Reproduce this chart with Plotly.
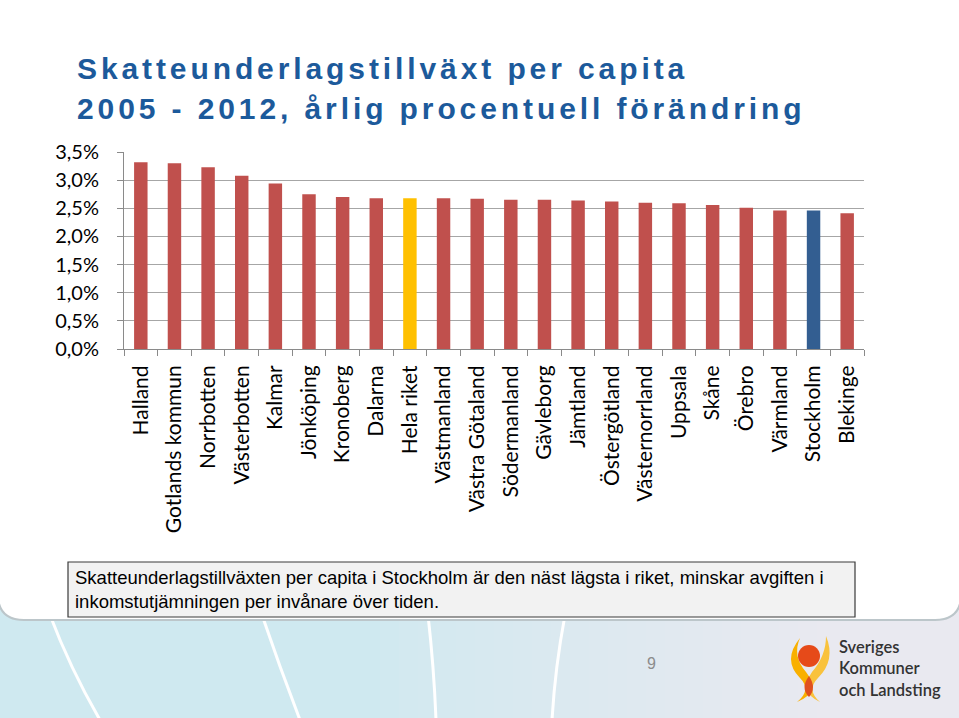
import plotly.graph_objects as go

# ---------------- data ----------------
regions = ["Halland", "Gotlands kommun", "Norrbotten", "Västerbotten", "Kalmar",
           "Jönköping", "Kronoberg", "Dalarna", "Hela riket", "Västmanland",
           "Västra Götaland", "Södermanland", "Gävleborg", "Jämtland",
           "Östergötland", "Västernorrland", "Uppsala", "Skåne", "Örebro",
           "Värmland", "Stockholm", "Blekinge"]
growth_pct = [3.32, 3.30, 3.23, 3.08, 2.94, 2.75, 2.70, 2.68, 2.68, 2.68,
              2.67, 2.65, 2.65, 2.64, 2.62, 2.60, 2.59, 2.56, 2.51, 2.46,
              2.46, 2.41]
y_tick_vals = [0, 0.5, 1.0, 1.5, 2.0, 2.5, 3.0, 3.5]
y_tick_text = ["0,0%", "0,5%", "1,0%", "1,5%", "2,0%", "2,5%", "3,0%", "3,5%"]

title_line1 = "Skatteunderlagstillväxt per capita"
title_line2 = "2005 - 2012, årlig procentuell förändring"
note_text = ("Skatteunderlagstillväxten per capita i Stockholm är den näst lägsta i riket, minskar avgiften i<br>"
             "inkomstutjämningen per invånare över tiden.")

# ---------------- style ----------------
RED, YELLOW, BLUE = "#C0504D", "#FFC000", "#335E91"
colors = [YELLOW if r == "Hela riket" else BLUE if r == "Stockholm" else RED for r in regions]

W, H = 959, 718
L, R, T, B = 124, 864, 152, 349  # plot area in pixels
PW, PH = R - L, B - T

def px(x):
    return (x - L) / PW

def py(y):
    return (B - y) / PH

fig = go.Figure(go.Bar(x=regions, y=growth_pct, marker_color=colors,
                       marker_line_width=0, width=0.4, hoverinfo="x+y"))

shapes = []
# whitish gradient towards the right of the lower band
n_steps = 30
for i in range(n_steps):
    shapes.append(dict(type="rect", xref="paper", yref="paper", layer="below",
                       x0=px(380 + i * 19), x1=px(961), y0=py(720), y1=py(610),
                       fillcolor="white", opacity=0.045, line_width=0))
# white swooshes in the lower band
for (x0, xc, x1) in [(50, 70, 100), (262, 280, 300), (428, 434, 436), (565, 555, 552)]:
    shapes.append(dict(type="path", xref="paper", yref="paper", layer="below",
                       path=f"M {px(x0)},{py(615)} Q {px(xc)},{py(668)} {px(x1)},{py(720)}",
                       line=dict(color="white", width=3)))
# white rounded panel
shapes.append(dict(type="path", xref="paper", yref="paper", layer="below",
                   path=(f"M {px(-2)},{py(-2)} L {px(961)},{py(-2)} L {px(961)},{py(598)} "
                         f"Q {px(959)},{py(620)} {px(935)},{py(620)} L {px(24)},{py(620)} "
                         f"Q {px(0)},{py(620)} {px(-2)},{py(598)} Z"),
                   fillcolor="white", line=dict(color="#BCC6CA", width=2)))
# note box
shapes.append(dict(type="rect", xref="paper", yref="paper",
                   x0=px(68), x1=px(855), y0=py(617), y1=py(562),
                   fillcolor="#F2F2F2", line=dict(color="#3A3A3A", width=1.2)))
# logo approximation
shapes.append(dict(type="path", xref="paper", yref="paper",
                   path=(f"M {px(800)},{py(638)} Q {px(782)},{py(660)} {px(800)},{py(678)} "
                         f"Q {px(812)},{py(690)} {px(797)},{py(702)} "
                         f"Q {px(822)},{py(692)} {px(806)},{py(672)} "
                         f"Q {px(792)},{py(656)} {px(800)},{py(638)} Z"),
                   fillcolor="#F9B000", line_width=0))
shapes.append(dict(type="path", xref="paper", yref="paper",
                   path=(f"M {px(826)},{py(636)} Q {px(836)},{py(660)} {px(818)},{py(678)} "
                         f"Q {px(806)},{py(690)} {px(820)},{py(702)} "
                         f"Q {px(798)},{py(692)} {px(812)},{py(672)} "
                         f"Q {px(826)},{py(656)} {px(826)},{py(636)} Z"),
                   fillcolor="#F9C23C", line_width=0))
shapes.append(dict(type="circle", xref="paper", yref="paper",
                   x0=px(798), x1=px(820), y0=py(667), y1=py(645),
                   fillcolor="#E64A19", line_width=0))
shapes.append(dict(type="path", xref="paper", yref="paper",
                   path=(f"M {px(809)},{py(676)} Q {px(800)},{py(688)} {px(809)},{py(697)} "
                         f"Q {px(817)},{py(688)} {px(809)},{py(676)} Z"),
                   fillcolor="#E0501E", line_width=0))

annotations = [
    dict(text=f"<b>{title_line1}</b>", x=px(75), y=py(69), xref="paper", yref="paper",
         xanchor="left", yanchor="middle", showarrow=False,
         font=dict(family="Liberation Sans, Arial", size=30, color="#1C5A9B")),
    dict(text=f"<b>{title_line2}</b>", x=px(75), y=py(108), xref="paper", yref="paper",
         xanchor="left", yanchor="middle", showarrow=False,
         font=dict(family="Liberation Sans, Arial", size=30, color="#1C5A9B")),
    dict(text=note_text, x=px(73), y=py(589.5), xref="paper", yref="paper",
         xanchor="left", yanchor="middle", align="left", showarrow=False,
         font=dict(family="Liberation Sans, Arial", size=18.5, color="black")),
    dict(text="9", x=px(651), y=py(663), xref="paper", yref="paper",
         xanchor="center", yanchor="middle", showarrow=False,
         font=dict(family="Liberation Sans, Arial", size=16, color="#8C8C8C")),
    dict(text="Sveriges<br>Kommuner<br>och Landsting", x=px(837), y=py(668), xref="paper", yref="paper",
         xanchor="left", yanchor="middle", align="left", showarrow=False,
         font=dict(family="Lato, Open Sans", size=16.5, color="#333333", weight=600)),
]

fig.update_layout(
    width=W, height=H,
    margin=dict(l=L, r=W - R, t=T, b=H - B, pad=0),
    paper_bgcolor="#CFE9F0", plot_bgcolor="rgba(0,0,0,0)",
    showlegend=False, bargap=0.6,
    shapes=shapes, annotations=annotations,
    font=dict(family="Lato, Open Sans", color="black"),
)
fig.update_xaxes(type="category", tickangle=-90, tickson="boundaries",
                 ticks="outside", ticklen=6, tickcolor="#8A8A8A",
                 showline=True, linecolor="#8A8A8A", linewidth=1,
                 showgrid=False, ticklabelstandoff=7,
                 tickfont=dict(family="Lato, Open Sans", size=21, color="black"))
fig.update_yaxes(range=[0, 3.5], tickvals=y_tick_vals, ticktext=y_tick_text,
                 ticks="outside", ticklen=6, tickcolor="#8A8A8A",
                 showline=True, linecolor="#8A8A8A", linewidth=1,
                 showgrid=True, gridcolor="#A6A6A6", gridwidth=1,
                 zeroline=False, ticklabelstandoff=14,
                 tickfont=dict(family="Lato, Open Sans", size=20, color="black"))

post = """
document.body.style.margin = '0';
document.body.style.padding = '0';
var gd = document.getElementById('{plot_id}');
function spaceTitle(){
  document.querySelectorAll('.annotation-text').forEach(function(t){
    var s = t.textContent;
    if ((s.indexOf('Skatteunderlagstillväxt per') === 0 || s.indexOf('2005 - 2012') === 0)
        && !t.getAttribute('data-spaced')) {
      var bb0 = t.getBBox();
      t.style.letterSpacing = '3.9px';
      t.setAttribute('text-anchor', 'start');
      t.setAttribute('x', bb0.x);
      t.querySelectorAll('tspan').forEach(function(ts){ if (ts.hasAttribute('x')) ts.setAttribute('x', bb0.x); });
      t.setAttribute('data-spaced', '1');
    }
  });
}
spaceTitle();
if (gd && gd.on) { gd.on('plotly_afterplot', spaceTitle); }
"""
fig.write_html("out.html", post_script=post, config={"displayModeBar": False})
